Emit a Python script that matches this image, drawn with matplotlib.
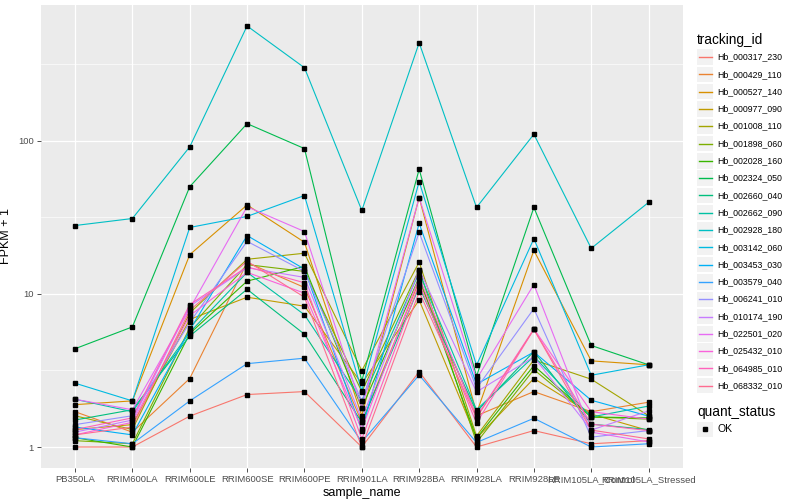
import matplotlib
matplotlib.use("Agg")
import matplotlib.pyplot as plt
from matplotlib.patches import Rectangle
from matplotlib.lines import Line2D
from matplotlib.ticker import FixedLocator, NullFormatter

plt.rcParams["font.family"] = ["Liberation Sans", "DejaVu Sans"]

SAMPLES = ["PB350LA", "RRIM600LA", "RRIM600LE", "RRIM600SE", "RRIM600PE",
           "RRIM901LA", "RRIM928BA", "RRIM928LA", "RRIM928LE",
           "RRIM105LA_Control", "RRIM105LA_Stressed"]

TRACKING_IDS = ["Hb_000317_230", "Hb_000429_110", "Hb_000527_140", "Hb_000977_090",
                "Hb_001008_110", "Hb_001898_060", "Hb_002028_160", "Hb_002324_050",
                "Hb_002660_040", "Hb_002662_090", "Hb_002928_180", "Hb_003142_060",
                "Hb_003453_030", "Hb_003579_040", "Hb_006241_010", "Hb_010174_190",
                "Hb_022501_020", "Hb_025432_010", "Hb_064985_010", "Hb_068332_010"]

# FPKM + 1, one row per tracking_id, one column per sample
FPKM1 = [
    [1.00, 1.00, 1.59, 2.20, 2.30, 1.00, 3.10, 1.00, 1.28, 1.05, 1.10],
    [1.70, 1.25, 2.80, 16.0, 11.0, 1.45, 12.1, 1.60, 2.30, 1.70, 1.96],
    [1.89, 2.00, 18.0, 38.0, 21.7, 1.60, 42.5, 1.66, 19.2, 3.65, 3.44],
    [1.30, 1.40, 6.80, 9.50, 8.30, 2.60, 9.10, 1.14, 2.80, 1.64, 1.28],
    [1.60, 1.30, 7.50, 16.8, 18.4, 3.15, 16.1, 1.18, 3.70, 2.77, 1.60],
    [1.10, 1.05, 6.00, 15.5, 14.0, 2.30, 14.4, 1.07, 3.20, 1.57, 1.52],
    [1.15, 1.00, 5.50, 12.1, 15.1, 1.80, 12.8, 1.14, 3.40, 1.57, 1.55],
    [4.38, 6.08, 50.0, 129., 88.7, 2.70, 65.0, 2.90, 36.6, 4.60, 3.44],
    [1.50, 1.75, 5.30, 10.7, 5.45, 1.45, 11.1, 1.70, 4.20, 1.41, 1.30],
    [2.05, 1.70, 5.60, 13.8, 7.30, 2.00, 13.8, 1.75, 3.90, 1.57, 1.85],
    [27.9, 31.0, 91.0, 560., 299., 35.0, 435., 36.6, 110., 19.8, 39.5],
    [2.61, 2.00, 27.1, 32.0, 43.8, 2.33, 54.0, 3.42, 22.9, 2.94, 3.44],
    [1.35, 1.20, 5.80, 24.0, 14.5, 1.28, 28.8, 2.57, 4.17, 2.02, 1.59],
    [1.15, 1.05, 2.00, 3.50, 3.80, 1.08, 2.95, 1.07, 1.54, 1.00, 1.05],
    [1.40, 1.60, 6.50, 22.0, 14.0, 2.00, 25.2, 2.41, 8.00, 1.16, 1.28],
    [1.25, 1.50, 8.30, 14.8, 12.8, 1.52, 14.4, 2.29, 3.87, 1.29, 1.72],
    [2.05, 1.75, 8.00, 37.0, 25.5, 1.79, 42.5, 2.77, 11.5, 1.25, 1.08],
    [1.20, 1.45, 7.20, 13.8, 10.1, 1.31, 12.8, 1.58, 5.90, 1.70, 1.52],
    [1.30, 1.55, 8.50, 15.0, 11.8, 1.13, 11.6, 1.43, 5.87, 1.41, 1.28],
    [1.20, 1.35, 7.80, 16.3, 9.50, 1.00, 10.3, 1.55, 5.85, 1.29, 1.13],
]

# ggplot2 default hue palette for 20 levels
COLORS = ["#F8766D", "#EA8331", "#D89000", "#C09B00", "#A3A500", "#7CAE00",
          "#39B600", "#00BB4E", "#00BF7D", "#00C1A3", "#00BFC4", "#00BAE0",
          "#00B0F6", "#35A2FF", "#9590FF", "#C77CFF", "#E76BF3", "#FA62DB",
          "#FF62BC", "#FF6C91"]

W, H = 800, 500
fig = plt.figure(figsize=(W / 100, H / 100), dpi=100)
ax = fig.add_axes([40.6 / W, 32 / H, (683 - 40.6) / W, (468 - 5) / H])
ax.set_facecolor("#EBEBEB")
for s in ax.spines.values():
    s.set_visible(False)

x = list(range(len(SAMPLES)))
for vals, col in zip(FPKM1, COLORS):
    ax.plot(x, vals, color=col, lw=0.8, zorder=3)
for vals in FPKM1:
    ax.plot(x, vals, ls="none", marker="s", ms=2.3, color="black", zorder=4)

ax.set_yscale("log")
ax.set_ylim(10 ** -0.137, 10 ** 2.885)
ax.set_xlim(-0.6, len(SAMPLES) - 1 + 0.6)
ax.yaxis.set_major_locator(FixedLocator([1, 10, 100]))
ax.yaxis.set_minor_locator(FixedLocator([10 ** 0.5, 10 ** 1.5, 10 ** 2.5]))
ax.yaxis.set_minor_formatter(NullFormatter())
ax.set_yticklabels(["1", "10", "100"])
ax.set_xticks(x)
ax.set_xticklabels(SAMPLES)
ax.tick_params(axis="both", which="major", length=3, width=0.6, color="#333333",
               labelsize=6.8, labelcolor="#4D4D4D", pad=2)
ax.tick_params(axis="y", which="minor", length=0)
ax.grid(True, which="major", color="white", lw=0.9, zorder=0)
ax.grid(True, which="minor", axis="y", color="white", lw=0.45, zorder=0)
ax.set_axisbelow(True)
ax.set_xlabel("sample_name", fontsize=9, labelpad=2)
ax.set_ylabel("FPKM + 1", fontsize=9, labelpad=4)

# legend drawn in pixel coordinates
lax = fig.add_axes([0, 0, 1, 1], zorder=5)
lax.set_xlim(0, W)
lax.set_ylim(H, 0)
lax.axis("off")
lax.patch.set_alpha(0)

lax.text(697, 40, "tracking_id", fontsize=9.8, va="center", ha="left")
step = 17.3
for i, (name, col) in enumerate(zip(TRACKING_IDS, COLORS)):
    cy = 57 + step * i
    lax.add_patch(Rectangle((697.3, cy - 7.7), 15.4, 15.4, color="#F2F2F2", lw=0))
    lax.add_artist(Line2D([698.5, 711.5], [cy, cy], color=col, lw=1.0))
    lax.text(717, cy, name, fontsize=6.3, va="center", ha="left")

lax.text(697, 412, "quant_status", fontsize=9.8, va="center", ha="left")
lax.add_patch(Rectangle((697.3, 421.5), 15.4, 15.4, color="#F2F2F2", lw=0))
lax.add_artist(Line2D([705], [429.2], marker="s", ms=2.3, color="black", ls="none"))
lax.text(717, 429.2, "OK", fontsize=7.5, va="center", ha="left")

fig.savefig("out.png", dpi=100, facecolor="white")
